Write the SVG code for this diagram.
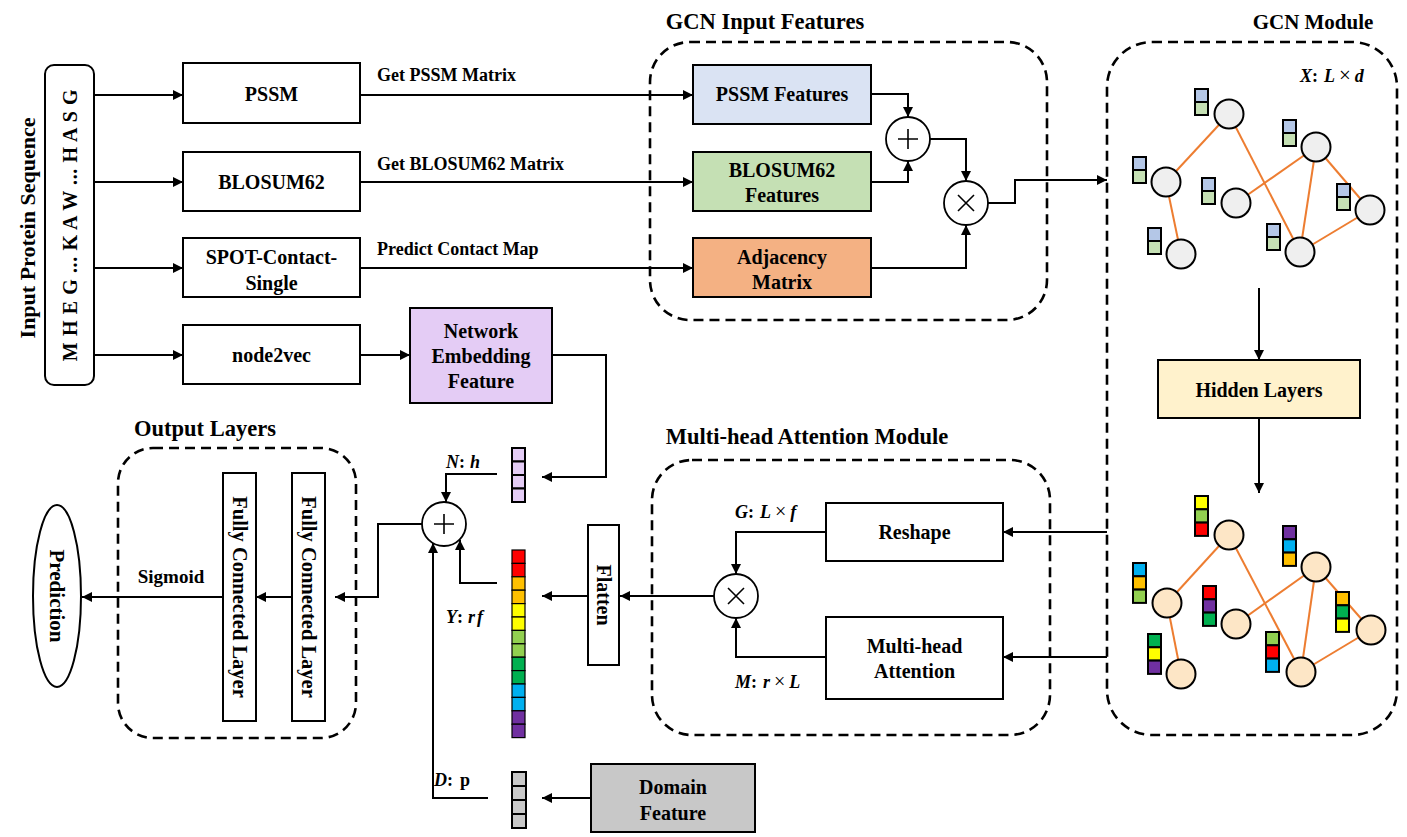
<svg xmlns="http://www.w3.org/2000/svg" width="1407" height="837" viewBox="0 0 1407 837">
<defs>
<marker id="arr" viewBox="0 0 10 10" refX="10" refY="5" markerWidth="10" markerHeight="10" markerUnits="userSpaceOnUse" orient="auto">
<path d="M0,0 L10,5 L0,10 z" fill="#000"/>
</marker>
<style>
.t{font-family:"Liberation Serif","Times New Roman",serif;font-weight:bold;fill:#000}
.box{stroke:#000;stroke-width:2}
.dash{fill:none;stroke:#000;stroke-width:2.6;stroke-dasharray:10 6}
.con{fill:none;stroke:#000;stroke-width:2}
.ca{fill:none;stroke:#000;stroke-width:2;marker-end:url(#arr)}
.edge{stroke:#ED7D31;stroke-width:2}
.cell{stroke:#000;stroke-width:2}
.ycell{stroke:#000;stroke-width:1.2}
.gn{fill:#EFEFEF;stroke:#000;stroke-width:2}
.pn{fill:#FDE6C6;stroke:#000;stroke-width:2}
.op{fill:#fff;stroke:#000;stroke-width:1.8}
.m{font-family:"Liberation Serif","Times New Roman",serif;font-style:italic;font-weight:bold;font-size:18px}
.n{font-style:normal}
.x{font-style:normal;font-weight:normal}
</style>
</defs>
<rect width="1407" height="837" fill="#fff"/>

<!-- containers -->
<g id="gcn-input-features">
<rect class="dash" x="650" y="42" width="397" height="278" rx="40"/>
<text class="t" x="765" y="29" font-size="22.5" text-anchor="middle">GCN Input Features</text>
</g>
<g id="gcn-module">
<rect class="dash" x="1107" y="42" width="290" height="693" rx="45"/>
<text class="t" x="1313" y="29" font-size="21" text-anchor="middle">GCN Module</text>
<text class="m" x="1300" y="82" font-size="19">X<tspan class="n">:</tspan><tspan dx="6">L</tspan><tspan dx="4" class="x" font-size="21">×</tspan><tspan dx="4">d</tspan></text>
</g>
<g id="mha-module">
<rect class="dash" x="652" y="460" width="398" height="275" rx="40"/>
<text class="t" x="807" y="444" font-size="22.5" text-anchor="middle">Multi-head Attention Module</text>
</g>
<g id="output-layers">
<rect class="dash" x="118" y="448" width="238" height="290" rx="35"/>
<text class="t" x="205" y="436" font-size="22.5" text-anchor="middle">Output Layers</text>
</g>

<!-- connectors -->
<g id="connectors">
<line class="ca" x1="94" y1="95" x2="183" y2="95"/>
<line class="ca" x1="94" y1="182" x2="183" y2="182"/>
<line class="ca" x1="94" y1="268" x2="183" y2="268"/>
<line class="ca" x1="94" y1="355" x2="183" y2="355"/>
<line class="ca" x1="360" y1="95" x2="693" y2="95"/>
<line class="ca" x1="360" y1="182" x2="693" y2="182"/>
<line class="ca" x1="360" y1="268" x2="693" y2="268"/>
<line class="ca" x1="360" y1="355" x2="410" y2="355"/>
<polyline class="ca" points="871,94 908,94 908,117"/>
<polyline class="ca" points="871,182 908,182 908,161"/>
<polyline class="ca" points="930,139 966,139 966,181"/>
<polyline class="ca" points="871,268 966,268 966,225"/>
<polyline class="ca" points="988,203 1015,203 1015,180 1107,180"/>
<line class="ca" x1="1259" y1="288" x2="1259" y2="360"/>
<line class="ca" x1="1259" y1="418" x2="1259" y2="493"/>
<line class="ca" x1="1107" y1="532" x2="1003" y2="532"/>
<line class="ca" x1="1107" y1="657" x2="1003" y2="657"/>
<polyline class="ca" points="826,532 736,532 736,574"/>
<polyline class="ca" points="826,657 736,657 736,618"/>
<line class="ca" x1="714" y1="596" x2="620" y2="596"/>
<line class="ca" x1="588" y1="596" x2="542" y2="596"/>
<polyline class="ca" points="552,355 606,355 606,477 542,477"/>
<polyline class="ca" points="497,474 446,474 446,502"/>
<polyline class="ca" points="497,583 460,583 460,540"/>
<polyline class="ca" points="488,798 433,798 433,543"/>
<line class="ca" x1="591" y1="798" x2="542" y2="798"/>
<polyline class="ca" points="422,524 378,524 378,597 335,597"/>
<line class="ca" x1="292" y1="597" x2="256" y2="597"/>
<line class="ca" x1="223" y1="597" x2="82" y2="597"/>
</g>

<!-- edge labels -->
<g id="edge-labels">
<text class="t" x="377" y="81" font-size="18">Get PSSM Matrix</text>
<text class="t" x="377" y="170" font-size="18">Get BLOSUM62 Matrix</text>
<text class="t" x="377" y="255" font-size="18">Predict Contact Map</text>
<text class="t" x="171" y="583" font-size="19" text-anchor="middle">Sigmoid</text>
<text class="m" x="446" y="468">N<tspan class="n">:</tspan><tspan dx="5">h</tspan></text>
<text class="m" x="446" y="623">Y<tspan class="n">:</tspan><tspan dx="5">r</tspan><tspan dx="2">f</tspan></text>
<text class="m" x="434" y="786">D<tspan class="n">:</tspan><tspan dx="7" class="n">p</tspan></text>
<text class="m" x="735" y="518">G<tspan class="n">:</tspan><tspan dx="6">L</tspan><tspan dx="4" class="x" font-size="20">×</tspan><tspan dx="4">f</tspan></text>
<text class="m" x="735" y="688">M<tspan class="n">:</tspan><tspan dx="6">r</tspan><tspan dx="4" class="x" font-size="20">×</tspan><tspan dx="4">L</tspan></text>
</g>

<!-- input -->
<g id="input-sequence">
<rect class="box" x="45" y="65" width="49" height="320" rx="9" fill="#fff"/>
<text class="t" transform="translate(77,225) rotate(-90)" font-size="20" letter-spacing="0.6" text-anchor="middle">M H E G ... K A W ... H A S G</text>
<text class="t" transform="translate(35,228) rotate(-90)" font-size="22" text-anchor="middle">Input Protein Sequence</text>
</g>

<g id="pssm"><rect class="box" x="183" y="63" width="177" height="60" fill="#fff"/><text class="t" x="271.5" y="101" font-size="20" text-anchor="middle">PSSM</text></g>
<g id="blosum62"><rect class="box" x="183" y="152" width="177" height="59" fill="#fff"/><text class="t" x="271.5" y="189" font-size="20" text-anchor="middle">BLOSUM62</text></g>
<g id="spot"><rect class="box" x="183" y="238" width="177" height="59" fill="#fff"/><text class="t" x="271.5" y="264" font-size="20" text-anchor="middle">SPOT-Contact-</text><text class="t" x="271.5" y="290" font-size="20" text-anchor="middle">Single</text></g>
<g id="node2vec"><rect class="box" x="183" y="325" width="177" height="59" fill="#fff"/><text class="t" x="271.5" y="362" font-size="20" text-anchor="middle">node2vec</text></g>
<g id="network-embedding"><rect class="box" x="410" y="308" width="142" height="95" fill="#E4CCF5"/><text class="t" x="481" y="338" font-size="20" text-anchor="middle">Network</text><text class="t" x="481" y="363" font-size="20" text-anchor="middle">Embedding</text><text class="t" x="481" y="388" font-size="20" text-anchor="middle">Feature</text></g>

<g id="pssm-features"><rect class="box" x="693" y="65" width="178" height="59" fill="#DAE3F3"/><text class="t" x="782" y="101" font-size="20" text-anchor="middle">PSSM Features</text></g>
<g id="blosum-features"><rect class="box" x="693" y="152" width="178" height="59" fill="#C5E0B4"/><text class="t" x="782" y="177" font-size="20" text-anchor="middle">BLOSUM62</text><text class="t" x="782" y="202" font-size="20" text-anchor="middle">Features</text></g>
<g id="adjacency"><rect class="box" x="693" y="238" width="178" height="59" fill="#F4B183"/><text class="t" x="782" y="264" font-size="20" text-anchor="middle">Adjacency</text><text class="t" x="782" y="289" font-size="20" text-anchor="middle">Matrix</text></g>
<g id="op-plus-top"><circle class="op" cx="908" cy="139" r="22"/><path d="M898,139 H918 M908,129 V149" stroke="#000" stroke-width="1.6"/></g>
<g id="op-times-top"><circle class="op" cx="966" cy="203" r="22"/><path d="M958,195 L974,211 M974,195 L958,211" stroke="#000" stroke-width="1.6"/></g>

<!-- GCN graph top -->
<g id="graph-input">
<line class="edge" x1="1229" y1="114" x2="1166" y2="182"/>
<line class="edge" x1="1166" y1="182" x2="1181" y2="254"/>
<line class="edge" x1="1229" y1="114" x2="1300" y2="252"/>
<line class="edge" x1="1236" y1="203" x2="1316" y2="147"/>
<line class="edge" x1="1316" y1="147" x2="1300" y2="252"/>
<line class="edge" x1="1316" y1="147" x2="1370" y2="210"/>
<line class="edge" x1="1370" y1="210" x2="1300" y2="252"/>
<circle class="gn" cx="1229" cy="114" r="14.5"/>
<circle class="gn" cx="1166" cy="182" r="14.5"/>
<circle class="gn" cx="1181" cy="254" r="14.5"/>
<circle class="gn" cx="1236" cy="203" r="14.5"/>
<circle class="gn" cx="1316" cy="147" r="14.5"/>
<circle class="gn" cx="1370" cy="210" r="14.5"/>
<circle class="gn" cx="1300" cy="252" r="14.5"/>
<rect class="cell" x="1195" y="89" width="13" height="13" fill="#B4C7E7"/><rect class="cell" x="1195" y="102" width="13" height="13" fill="#C5E0B4"/>
<rect class="cell" x="1133" y="157" width="13" height="13" fill="#B4C7E7"/><rect class="cell" x="1133" y="170" width="13" height="13" fill="#C5E0B4"/>
<rect class="cell" x="1202" y="178" width="13" height="13" fill="#B4C7E7"/><rect class="cell" x="1202" y="191" width="13" height="13" fill="#C5E0B4"/>
<rect class="cell" x="1148" y="228" width="13" height="13" fill="#B4C7E7"/><rect class="cell" x="1148" y="241" width="13" height="13" fill="#C5E0B4"/>
<rect class="cell" x="1283" y="120" width="13" height="13" fill="#B4C7E7"/><rect class="cell" x="1283" y="133" width="13" height="13" fill="#C5E0B4"/>
<rect class="cell" x="1267" y="224" width="13" height="13" fill="#B4C7E7"/><rect class="cell" x="1267" y="237" width="13" height="13" fill="#C5E0B4"/>
<rect class="cell" x="1337" y="184" width="13" height="13" fill="#B4C7E7"/><rect class="cell" x="1337" y="197" width="13" height="13" fill="#C5E0B4"/>
</g>

<g id="hidden-layers"><rect class="box" x="1158" y="360" width="202" height="58" fill="#FFF2CC"/><text class="t" x="1259" y="397" font-size="20" text-anchor="middle">Hidden Layers</text></g>

<!-- GCN graph bottom -->
<g id="graph-output">
<line class="edge" x1="1229" y1="535" x2="1167" y2="603"/>
<line class="edge" x1="1167" y1="603" x2="1181" y2="674"/>
<line class="edge" x1="1229" y1="535" x2="1301" y2="672"/>
<line class="edge" x1="1236" y1="624" x2="1316" y2="567"/>
<line class="edge" x1="1316" y1="567" x2="1301" y2="672"/>
<line class="edge" x1="1316" y1="567" x2="1371" y2="630"/>
<line class="edge" x1="1371" y1="630" x2="1301" y2="672"/>
<circle class="pn" cx="1229" cy="535" r="14.5"/>
<circle class="pn" cx="1167" cy="603" r="14.5"/>
<circle class="pn" cx="1181" cy="674" r="14.5"/>
<circle class="pn" cx="1236" cy="624" r="14.5"/>
<circle class="pn" cx="1316" cy="567" r="14.5"/>
<circle class="pn" cx="1371" cy="630" r="14.5"/>
<circle class="pn" cx="1301" cy="672" r="14.5"/>
<rect class="cell" x="1195" y="496" width="13" height="13.3" fill="#FFFF00"/><rect class="cell" x="1195" y="509.3" width="13" height="13.3" fill="#92D050"/><rect class="cell" x="1195" y="522.6" width="13" height="13.3" fill="#FF0000"/>
<rect class="cell" x="1133" y="563" width="13" height="13.3" fill="#00B0F0"/><rect class="cell" x="1133" y="576.3" width="13" height="13.3" fill="#FFC000"/><rect class="cell" x="1133" y="589.6" width="13" height="13.3" fill="#92D050"/>
<rect class="cell" x="1203" y="586" width="13" height="13.3" fill="#FF0000"/><rect class="cell" x="1203" y="599.3" width="13" height="13.3" fill="#7030A0"/><rect class="cell" x="1203" y="612.6" width="13" height="13.3" fill="#00B050"/>
<rect class="cell" x="1148" y="634" width="13" height="13.3" fill="#00B050"/><rect class="cell" x="1148" y="647.3" width="13" height="13.3" fill="#FFFF00"/><rect class="cell" x="1148" y="660.6" width="13" height="13.3" fill="#7030A0"/>
<rect class="cell" x="1283" y="526" width="13" height="13.3" fill="#7030A0"/><rect class="cell" x="1283" y="539.3" width="13" height="13.3" fill="#00B0F0"/><rect class="cell" x="1283" y="552.6" width="13" height="13.3" fill="#FFC000"/>
<rect class="cell" x="1266" y="632" width="13" height="13.3" fill="#92D050"/><rect class="cell" x="1266" y="645.3" width="13" height="13.3" fill="#FF0000"/><rect class="cell" x="1266" y="658.6" width="13" height="13.3" fill="#00B0F0"/>
<rect class="cell" x="1336" y="592" width="13" height="13.3" fill="#FFC000"/><rect class="cell" x="1336" y="605.3" width="13" height="13.3" fill="#00B050"/><rect class="cell" x="1336" y="618.6" width="13" height="13.3" fill="#FFFF00"/>
</g>

<!-- attention module -->
<g id="reshape"><rect class="box" x="826" y="503" width="177" height="58" fill="#fff"/><text class="t" x="914.5" y="539" font-size="20" text-anchor="middle">Reshape</text></g>
<g id="multihead-attention"><rect class="box" x="826" y="617" width="177" height="82" fill="#fff"/><text class="t" x="914.5" y="653" font-size="20" text-anchor="middle">Multi-head</text><text class="t" x="914.5" y="678" font-size="20" text-anchor="middle">Attention</text></g>
<g id="op-times-att"><circle class="op" cx="736" cy="596" r="22"/><path d="M728,588 L744,604 M744,588 L728,604" stroke="#000" stroke-width="1.6"/></g>
<g id="flatten"><rect class="box" x="588" y="525" width="31" height="140" fill="#fff"/><text class="t" transform="translate(596.5,595) rotate(90)" font-size="20" text-anchor="middle">Flatten</text></g>

<!-- feature vectors -->
<g id="vec-n">
<rect class="cell" x="512" y="448" width="13" height="13.5" fill="#E4CCF5"/>
<rect class="cell" x="512" y="461.5" width="13" height="13.5" fill="#E4CCF5"/>
<rect class="cell" x="512" y="475" width="13" height="13.5" fill="#E4CCF5"/>
<rect class="cell" x="512" y="488.5" width="13" height="13.5" fill="#E4CCF5"/>
</g>
<g id="vec-y">
<rect class="ycell" x="512" y="550" width="13" height="13.4" fill="#FF0000"/>
<rect class="ycell" x="512" y="563.4" width="13" height="13.4" fill="#FF0000"/>
<rect class="ycell" x="512" y="576.8" width="13" height="13.4" fill="#FFC000"/>
<rect class="ycell" x="512" y="590.2" width="13" height="13.4" fill="#FFC000"/>
<rect class="ycell" x="512" y="603.6" width="13" height="13.4" fill="#FFFF00"/>
<rect class="ycell" x="512" y="617" width="13" height="13.4" fill="#FFFF00"/>
<rect class="ycell" x="512" y="630.4" width="13" height="13.4" fill="#92D050"/>
<rect class="ycell" x="512" y="643.8" width="13" height="13.4" fill="#92D050"/>
<rect class="ycell" x="512" y="657.2" width="13" height="13.4" fill="#00B050"/>
<rect class="ycell" x="512" y="670.6" width="13" height="13.4" fill="#00B050"/>
<rect class="ycell" x="512" y="684" width="13" height="13.4" fill="#00B0F0"/>
<rect class="ycell" x="512" y="697.4" width="13" height="13.4" fill="#00B0F0"/>
<rect class="ycell" x="512" y="710.8" width="13" height="13.4" fill="#7030A0"/>
<rect class="ycell" x="512" y="724.2" width="13" height="13.4" fill="#7030A0"/>
</g>
<g id="vec-d">
<rect class="cell" x="512" y="772" width="14" height="14" fill="#C8C8C8"/>
<rect class="cell" x="512" y="786" width="14" height="14" fill="#C8C8C8"/>
<rect class="cell" x="512" y="800" width="14" height="14" fill="#C8C8C8"/>
<rect class="cell" x="512" y="814" width="14" height="14" fill="#C8C8C8"/>
</g>
<g id="domain-feature"><rect class="box" x="591" y="764" width="164" height="68" fill="#C8C8C8"/><text class="t" x="673" y="794" font-size="20" text-anchor="middle">Domain</text><text class="t" x="673" y="820" font-size="20" text-anchor="middle">Feature</text></g>
<g id="op-plus-out"><circle class="op" cx="444" cy="524" r="22"/><path d="M434,524 H454 M444,514 V534" stroke="#000" stroke-width="1.6"/></g>

<!-- output -->
<g id="fc2"><rect class="box" x="292" y="473" width="33" height="248" fill="#fff"/><text class="t" transform="translate(301.5,597) rotate(90)" font-size="20.5" text-anchor="middle">Fully Connected Layer</text></g>
<g id="fc1"><rect class="box" x="223" y="473" width="33" height="248" fill="#fff"/><text class="t" transform="translate(232.5,597) rotate(90)" font-size="20.5" text-anchor="middle">Fully Connected Layer</text></g>
<g id="prediction"><ellipse class="box" cx="57" cy="596" rx="24" ry="91" fill="#fff"/><text class="t" transform="translate(50,596) rotate(90)" font-size="21" text-anchor="middle">Prediction</text></g>
</svg>
